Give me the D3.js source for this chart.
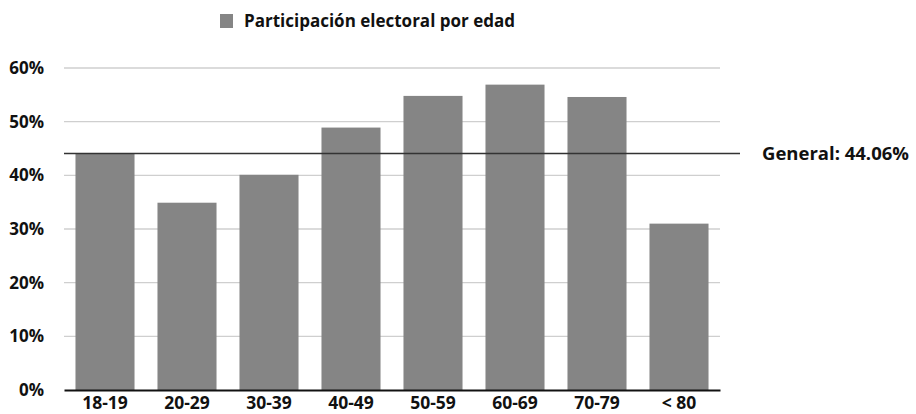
<!DOCTYPE html>
<html>
<head>
<meta charset="utf-8">
<script src="https://cdn.jsdelivr.net/npm/d3@7"></script>
<style>
  body { margin: 0; background: #fff; }
  text { font-family: "Open Sans", sans-serif; font-weight: 700; fill: #111; }
</style>
</head>
<body>
<svg id="chart" width="916" height="414"></svg>
<script>
var categories = ['18-19', '20-29', '30-39', '40-49', '50-59', '60-69', '70-79', '< 80'];
var turnout = [0.440, 0.349, 0.401, 0.489, 0.548, 0.569, 0.546, 0.310];
var yTicks = [0, 0.1, 0.2, 0.3, 0.4, 0.5, 0.6];
var seriesName = 'Participación electoral por edad';
var generalValue = 0.4406;
var generalLabel = 'General: 44.06%';

var chart = {
  margin: { top: 68, right: 196, bottom: 24, left: 64 },

  init: function() {
    var self = this;
    self.svg = d3.select('#chart');
    self.width = 916 - self.margin.left - self.margin.right;
    self.height = 414 - self.margin.top - self.margin.bottom;

    self.x = d3.scaleBand()
      .domain(categories)
      .range([0, self.width])
      .paddingInner(0.28)
      .paddingOuter(0.14);

    self.y = d3.scaleLinear()
      .domain([0, 0.6])
      .range([self.height, 0]);

    self.g = self.svg.append('g')
      .attr('transform', 'translate(' + self.margin.left + ',' + self.margin.top + ')');

    self.drawGrid();
    self.drawBars();
    self.drawAxes();
    self.drawGeneral();
    self.drawLegend();
  },

  drawGrid: function() {
    var self = this;
    self.g.append('g')
      .selectAll('line')
      .data(yTicks.filter(function(d) { return d > 0; }))
      .enter().append('line')
      .attr('x1', 0)
      .attr('x2', self.width)
      .attr('y1', function(d) { return self.y(d); })
      .attr('y2', function(d) { return self.y(d); })
      .attr('stroke', '#cfcfcf')
      .attr('stroke-width', 1.3);
  },

  drawBars: function() {
    var self = this;
    self.g.selectAll('.bar')
      .data(turnout)
      .enter().append('rect')
      .attr('class', 'bar')
      .attr('x', function(d, i) { return self.x(categories[i]); })
      .attr('y', function(d) { return self.y(d); })
      .attr('width', self.x.bandwidth())
      .attr('height', function(d) { return self.height - self.y(d); })
      .attr('fill', '#858585');
  },

  drawAxes: function() {
    var self = this;
    var yAxis = self.g.append('g')
      .call(d3.axisLeft(self.y)
        .tickValues(yTicks)
        .tickSize(0)
        .tickPadding(20)
        .tickFormat(d3.format('.0%')));
    yAxis.select('.domain').remove();
    yAxis.selectAll('text')
      .style('font-size', '17px')
      .attr('fill', '#111');

    var xAxis = self.g.append('g')
      .attr('transform', 'translate(0,' + self.height + ')')
      .call(d3.axisBottom(self.x).tickSize(0).tickPadding(7));
    xAxis.select('.domain')
      .attr('stroke', '#111')
      .attr('stroke-width', 2);
    xAxis.selectAll('text')
      .style('font-size', '17.5px')
      .attr('fill', '#111');
  },

  drawGeneral: function() {
    var self = this;
    var gy = self.y(generalValue);
    self.g.append('line')
      .attr('x1', 0)
      .attr('x2', self.width + 20)
      .attr('y1', gy)
      .attr('y2', gy)
      .attr('stroke', '#333')
      .attr('stroke-width', 1.5);
    self.g.append('text')
      .attr('x', self.width + 42)
      .attr('y', gy)
      .attr('dy', '0.35em')
      .style('font-size', '18.5px')
      .text(generalLabel);
  },

  drawLegend: function() {
    var self = this;
    var lg = self.svg.append('g').attr('transform', 'translate(220,14)');
    lg.append('rect')
      .attr('width', 13)
      .attr('height', 14)
      .attr('fill', '#858585');
    lg.append('text')
      .attr('x', 24)
      .attr('y', 7)
      .attr('dy', '0.35em')
      .style('font-size', '17px')
      .text(seriesName);
  }
};

chart.init();
</script>
</body>
</html>
